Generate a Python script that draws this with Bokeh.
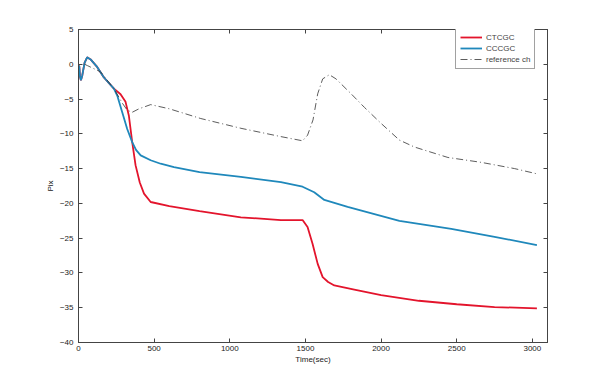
from bokeh.plotting import figure
from bokeh.models import LinearAxis, FixedTicker, Range1d, Label, Legend, LegendItem
from bokeh.embed import file_html
from bokeh.resources import INLINE

# ---- data ----
t_red = [0, 5, 10, 16, 25, 40, 57, 80, 120, 168, 234, 278, 311, 333, 355, 377, 405, 433,
         477, 600, 800, 1073, 1338, 1481, 1514, 1547, 1581, 1614, 1650, 1691, 1823, 2000,
         2250, 2500, 2750, 3030]
red = [-0.2, -0.3, -1.8, -2.3, -1.6, 0.2, 1.0, 0.7, -0.3, -1.9, -3.5, -4.3, -5.4, -7.4,
       -11.2, -14.5, -17.0, -18.6, -19.8, -20.4, -21.1, -22.0, -22.4, -22.4, -23.4, -25.8,
       -28.7, -30.6, -31.3, -31.8, -32.4, -33.2, -34.0, -34.5, -34.9, -35.1]

t_blue = [0, 5, 10, 16, 25, 40, 57, 80, 120, 168, 234, 256, 289, 322, 355, 380, 411, 477,
          543, 631, 800, 1073, 1338, 1481, 1558, 1625, 1779, 2121, 2464, 2750, 3030]
blue = [-0.2, -0.3, -1.8, -2.3, -1.6, 0.2, 1.0, 0.7, -0.3, -1.9, -3.5, -4.5, -6.9, -9.3,
        -11.2, -12.3, -13.1, -13.8, -14.3, -14.8, -15.5, -16.2, -16.95, -17.6, -18.4, -19.5,
        -20.5, -22.5, -23.65, -24.8, -26.0]

t_ref = [40, 60, 146, 234, 290, 322, 355, 400, 477, 600, 808, 1073, 1338, 1481, 1514, 1550,
         1581, 1614, 1658, 1702, 1800, 1890, 2000, 2121, 2221, 2442, 2662, 2883, 3030]
ref = [0.0, -0.2, -1.1, -3.5, -5.6, -6.6, -6.9, -6.4, -5.8, -6.4, -7.8, -9.2, -10.4, -11.0,
       -10.2, -8.0, -4.25, -2.1, -1.5, -2.1, -4.2, -6.2, -8.5, -10.9, -11.9, -13.4, -14.1,
       -15.0, -15.75]

x_ticks = [0, 500, 1000, 1500, 2000, 2500, 3000]
y_ticks = [5, 0, -5, -10, -15, -20, -25, -30, -35, -40]

series_names = ["CTCGC", "CCCGC", "reference ch"]

FONT = "Liberation Sans"
AX = "#444444"

p = figure(width=600, height=384, output_backend="svg", toolbar_location=None,
           x_range=Range1d(0, 3100), y_range=Range1d(-40, 5),
           min_border_left=78, min_border_right=53, min_border_top=29, min_border_bottom=42)
p.title = None
p.grid.visible = False
p.outline_line_color = AX
p.background_fill_color = "white"
p.border_fill_color = "white"

r1 = p.line(t_red, red, line_color="#e3142c", line_width=1.8)
r2 = p.line(t_blue, blue, line_color="#1f88bb", line_width=1.8)
r3 = p.line(t_ref, ref, line_color="#333333", line_width=0.8, line_dash="7 3 1 3")

def style(ax, labels=True):
    ax.axis_line_color = AX
    ax.major_tick_line_color = AX
    ax.major_tick_in = 4
    ax.major_tick_out = 0
    ax.minor_tick_line_color = None
    ax.major_label_text_font = FONT
    ax.major_label_text_font_size = "8px"
    ax.major_label_text_color = "#222222" if labels else None
    ax.major_label_standoff = 3
    ax.axis_label_text_font = FONT
    ax.axis_label_text_font_size = "8px"
    ax.axis_label_text_font_style = "normal"
    ax.axis_label_text_color = "#222222"

xa = p.xaxis[0]
ya = p.yaxis[0]
xa.ticker = FixedTicker(ticks=x_ticks)
ya.ticker = FixedTicker(ticks=y_ticks)
style(xa)
style(ya)
xa.axis_label = "Time(sec)"
xa.axis_label_standoff = 1
ya.axis_label = "Pix"
ya.axis_label_standoff = 2
ya.major_label_standoff = 5

top = LinearAxis(ticker=FixedTicker(ticks=x_ticks))
style(top, labels=False)
top.major_label_text_font_size = "1px"
p.add_layout(top, "above")
right = LinearAxis(ticker=FixedTicker(ticks=y_ticks))
style(right, labels=False)
right.major_label_text_font_size = "1px"
p.add_layout(right, "right")

title = Label(x=1550, y=5, text="DNA(FA 20)", text_font=FONT, text_font_size="8px",
              text_align="center", text_baseline="bottom", y_offset=4, text_color="#222222")
p.add_layout(title)

legend = Legend(items=[LegendItem(label=series_names[0], renderers=[r1]),
                       LegendItem(label=series_names[1], renderers=[r2]),
                       LegendItem(label=series_names[2], renderers=[r3])],
                location=(377, 273), orientation="vertical")
legend.label_text_font = FONT
legend.label_text_font_size = "8px"
legend.label_standoff = 4
legend.glyph_width = 22
legend.glyph_height = 10
legend.label_height = 10
legend.spacing = 1
legend.padding = 4
legend.margin = 0
legend.border_line_color = AX
legend.border_line_width = 1
legend.background_fill_alpha = 1
p.add_layout(legend)

open("out.html", "w").write(file_html(p, INLINE))
